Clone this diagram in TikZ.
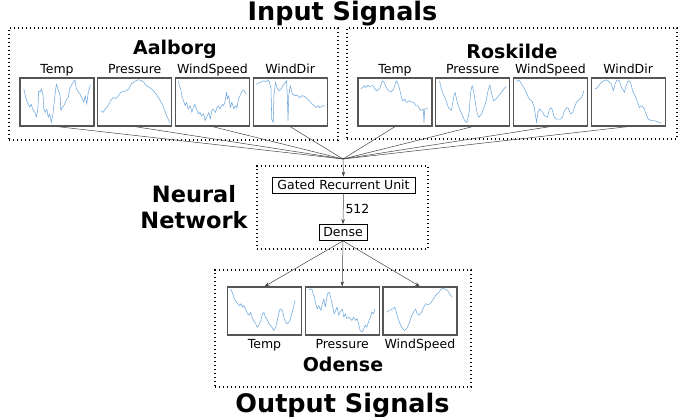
\documentclass[tikz,border=0pt]{standalone}
\usepackage{fontspec}
\setmainfont{DejaVu Sans}
\usepackage{xcolor}
\usepackage{tikz}
\usetikzlibrary{positioning, arrows.meta}
\definecolor{sigblue}{HTML}{6FA8DC}
\definecolor{framegray}{HTML}{555555}
\definecolor{wiregray}{HTML}{444444}
\newcommand\sigfont{\fontsize{12.5}{15}\selectfont}
\newcommand\cityfont{\fontsize{19}{23}\selectfont\bfseries}
\newcommand\headfont{\fontsize{25.5}{30}\selectfont\bfseries}
\newcommand\netfont{\fontsize{22.5}{26}\selectfont\bfseries}
\newcommand\signal[2]{\draw[sig, shift={(#1.north west)}, x=0.74pt, y=-0.48pt] plot coordinates {#2};}
\tikzset{
  group box/.style={
    draw=black,
    line width=1.3pt,
    dash pattern=on 1.3pt off 2.7pt,
    inner sep=0pt
  },
  sig box/.style={
    draw=framegray, line width=1.2pt,
    minimum width=74pt, minimum height=48pt,
    inner sep=0pt
  },
  layer/.style={
    draw=black, line width=0.8pt,
    font=\sigfont, inner sep=1.5pt,
    minimum height=16pt
  },
  sig label/.style={font=\sigfont, anchor=base},
  city/.style={font=\cityfont, anchor=base},
  heading/.style={font=\headfont, anchor=base},
  feed/.style={draw=wiregray, line width=0.5pt},
  flow/.style={-{Stealth[length=5pt, width=3.5pt]}, draw=wiregray, line width=0.5pt},
  sig/.style={draw=sigblue, line width=0.55pt, line join=round}
}
\begin{document}
\begin{tikzpicture}[x=1pt, y=-1pt]
  \useasboundingbox (0,0) rectangle (691,417);

  % Groups
  \node[group box, minimum width=329pt, minimum height=112pt] (aalborg) at (173.5,84) {};
  \node[group box, minimum width=330pt, minimum height=111pt] (roskilde) at (512,83.5) {};
  \node[group box, minimum width=171pt, minimum height=83pt] (net) at (342.5,207.5) {};
  \node[group box, minimum width=256pt, minimum height=117pt] (odense) at (343,328.5) {};

  % Headings
  \node[heading] (inTitle) at (342.5,20.5) {Input Signals};
  \node[heading] (outTitle) at (342.5,412) {Output Signals};
  \node[font=\netfont, align=center, anchor=base] (netTitle) at (194,228) {Neural\\Network};
  \node[city] (aalTitle) at (175,55) {Aalborg};
  \node[city] (rosTitle) at (512,59) {Roskilde};
  \node[city] (odeTitle) at (343,371) {Odense};

  % Aalborg inputs
  \node[sig box] (aTemp) at (57,102) {};
  \node[sig box, right=2.5pt of aTemp] (aPres) {};
  \node[sig box, right=2.5pt of aPres] (aSpeed) {};
  \node[sig box, right=2.5pt of aSpeed] (aDir) {};
  \node[sig label] (aTempL) at (aTemp.center |- 0,73.5) {Temp};
  \node[sig label] (aPresL) at (aPres.center |- 0,73.5) {Pressure};
  \node[sig label] (aSpeedL) at (aSpeed.center |- 0,73.5) {WindSpeed};
  \node[sig label] (aDirL) at (aDir.center |- 0,73.5) {WindDir};

  % Roskilde inputs
  \node[sig box] (rTemp) at (395,102) {};
  \node[sig box, right=2.5pt of rTemp] (rPres) {};
  \node[sig box, right=2.5pt of rPres] (rSpeed) {};
  \node[sig box, right=2.5pt of rSpeed] (rDir) {};
  \node[sig label] (rTempL) at (rTemp.center |- 0,73.5) {Temp};
  \node[sig label] (rPresL) at (rPres.center |- 0,73.5) {Pressure};
  \node[sig label] (rSpeedL) at (rSpeed.center |- 0,73.5) {WindSpeed};
  \node[sig label] (rDirL) at (rDir.center |- 0,73.5) {WindDir};

  % Network layers
  \node[layer, minimum width=143pt] (gru) at (343.5,185) {Gated Recurrent Unit};
  \node[layer, minimum width=48pt] (dense) at (343,232.5) {Dense};
  \coordinate (merge) at (343,159);

  % Odense outputs
  \node[sig box] (oTemp) at (264.5,311) {};
  \node[sig box, right=2.5pt of oTemp] (oPres) {};
  \node[sig box, right=2.5pt of oPres] (oSpeed) {};
  \node[sig label] (oTempL) at (oTemp.center |- 0,348) {Temp};
  \node[sig label] (oPresL) at (oPres.center |- 0,348) {Pressure};
  \node[sig label] (oSpeedL) at (oSpeed.center |- 0,348) {WindSpeed};

  % Signals
  \signal{aTemp}{(6,24) (8,38) (10,49) (14,62) (16,56) (18,66) (21,73) (23,83) (25,66) (26,28) (28,31) (30,24) (32,38) (33,66) (35,73) (37,66) (39,83) (41,76) (43,94) (45,80) (47,52) (49,24) (50,14) (52,24) (55,38) (56,69) (58,62) (60,59) (61,56) (64,45) (66,42) (68,24) (70,17) (73,10) (75,5) (77,24) (80,31) (82,35) (85,45) (87,52) (89,38) (91,56) (93,31) (96,16)}
  \signal{aPres}{(5,69) (8,73) (11,66) (15,59) (18,49) (22,42) (25,44) (28,40) (32,31) (36,29) (39,28) (43,24) (46,14) (50,9) (55,5) (59,6) (63,10) (66,17) (71,21) (75,26) (80,35) (84,45) (89,59) (93,76) (98,94)}
  \signal{aSpeed}{(5,7) (6,17) (8,24) (10,42) (11,45) (14,59) (16,52) (18,66) (21,59) (23,73) (25,63) (27,56) (30,69) (32,76) (34,73) (36,80) (39,76) (41,90) (43,83) (46,73) (48,87) (50,69) (52,66) (55,73) (57,63) (59,59) (61,66) (64,56) (66,59) (68,49) (70,31) (71,45) (73,38) (75,63) (77,52) (80,66) (82,59) (84,63) (86,45) (89,35) (91,28) (93,26) (96,35)}
  \signal{aDir}{(5,14) (8,12) (11,10) (15,7) (18,9) (21,5) (23,10) (25,24) (26,87) (28,94) (29,38) (31,10) (33,21) (36,28) (39,24) (41,17) (43,14) (46,7) (47,38) (48,90) (49,38) (51,17) (54,35) (57,38) (60,37) (64,42) (67,38) (71,40) (74,45) (77,49) (81,56) (84,59) (86,63) (89,59) (91,63) (95,59) (98,60)}
  \signal{rTemp}{(5,24) (7,21) (9,17) (11,21) (14,16) (17,19) (21,17) (23,23) (26,28) (30,24) (32,14) (34,7) (36,10) (39,21) (42,28) (46,30) (49,24) (51,14) (53,7) (55,14) (57,24) (59,38) (61,49) (64,45) (66,52) (70,49) (73,51) (76,52) (79,59) (82,60) (84,66) (86,69) (89,66) (90,94) (91,66) (93,65) (96,66)}
  \signal{rPres}{(6,7) (8,21) (11,35) (15,49) (18,63) (22,69) (25,42) (27,31) (30,52) (33,66) (36,76) (40,90) (43,94) (46,73) (48,31) (50,17) (52,28) (55,59) (57,76) (59,83) (63,76) (66,63) (69,49) (72,24) (74,16) (76,31) (79,49) (82,45) (86,38) (90,31) (93,24) (96,19)}
  \signal{rSpeed}{(5,10) (7,5) (9,7) (12,14) (16,24) (20,38) (23,47) (26,49) (29,63) (31,83) (32,94) (34,73) (36,66) (40,72) (43,80) (47,83) (49,69) (51,63) (53,66) (56,83) (59,87) (64,87) (67,83) (70,69) (73,63) (75,65) (78,76) (81,73) (83,63) (86,52) (90,45) (93,42) (96,28)}
  \signal{rDir}{(6,24) (8,23) (11,17) (15,10) (18,7) (22,5) (25,9) (28,14) (31,28) (33,14) (36,5) (39,7) (42,21) (46,31) (48,17) (51,7) (54,10) (57,28) (60,38) (63,49) (66,63) (69,59) (72,63) (75,76) (78,87) (82,90) (86,90) (90,92) (93,94) (96,95)}
  \signal{oTemp}{(5,5) (8,15) (10,26) (13,33) (17,40) (19,36) (21,43) (23,40) (25,47) (28,57) (30,60) (32,54) (34,64) (37,74) (39,78) (41,85) (43,81) (46,71) (48,57) (50,54) (52,64) (55,71) (57,78) (59,81) (61,85) (63,92) (66,85) (68,71) (70,57) (72,47) (75,50) (77,64) (79,74) (81,78) (84,74) (86,67) (88,54) (90,43) (92,29)}
  \signal{oPres}{(6,8) (8,5) (10,7) (13,22) (15,36) (17,47) (19,40) (22,50) (24,36) (26,26) (28,43) (31,15) (33,12) (35,22) (37,36) (40,57) (42,50) (44,43) (46,60) (48,54) (51,47) (53,64) (55,57) (57,67) (60,64) (62,67) (64,71) (66,64) (69,71) (71,67) (73,78) (75,92) (78,95) (80,88) (82,81) (84,85) (87,71) (89,64) (91,54) (93,57) (95,47)}
  \signal{oSpeed}{(6,54) (9,50) (14,47) (17,43) (20,60) (23,74) (26,85) (30,92) (33,88) (36,78) (39,64) (42,54) (45,47) (47,57) (50,60) (53,54) (56,43) (59,36) (62,38) (65,36) (69,26) (72,19) (76,13) (81,3) (84,5) (88,8) (91,15) (94,22)}

  % Inputs into the network
  \draw[feed] (aTemp.south) -- (merge);
  \draw[feed] (aPres.south) -- (merge);
  \draw[feed] (aSpeed.south) -- (merge);
  \draw[feed] (aDir.south) -- (merge);
  \draw[feed] (rTemp.south) -- (merge);
  \draw[feed] (rPres.south) -- (merge);
  \draw[feed] (rSpeed.south) -- (merge);
  \draw[feed] (rDir.south) -- (merge);
  \draw[flow] (merge) -- (gru.north);
  \draw[flow] (gru.south) -- node[right, font=\sigfont, inner sep=2pt] (units) {512} (dense.north);

  % Outputs
  \draw[flow] (dense.south) -- (oTemp.north);
  \draw[flow] (dense.south) -- (oPres.north);
  \draw[flow] (dense.south) -- (oSpeed.north);

\end{tikzpicture}
\end{document}
